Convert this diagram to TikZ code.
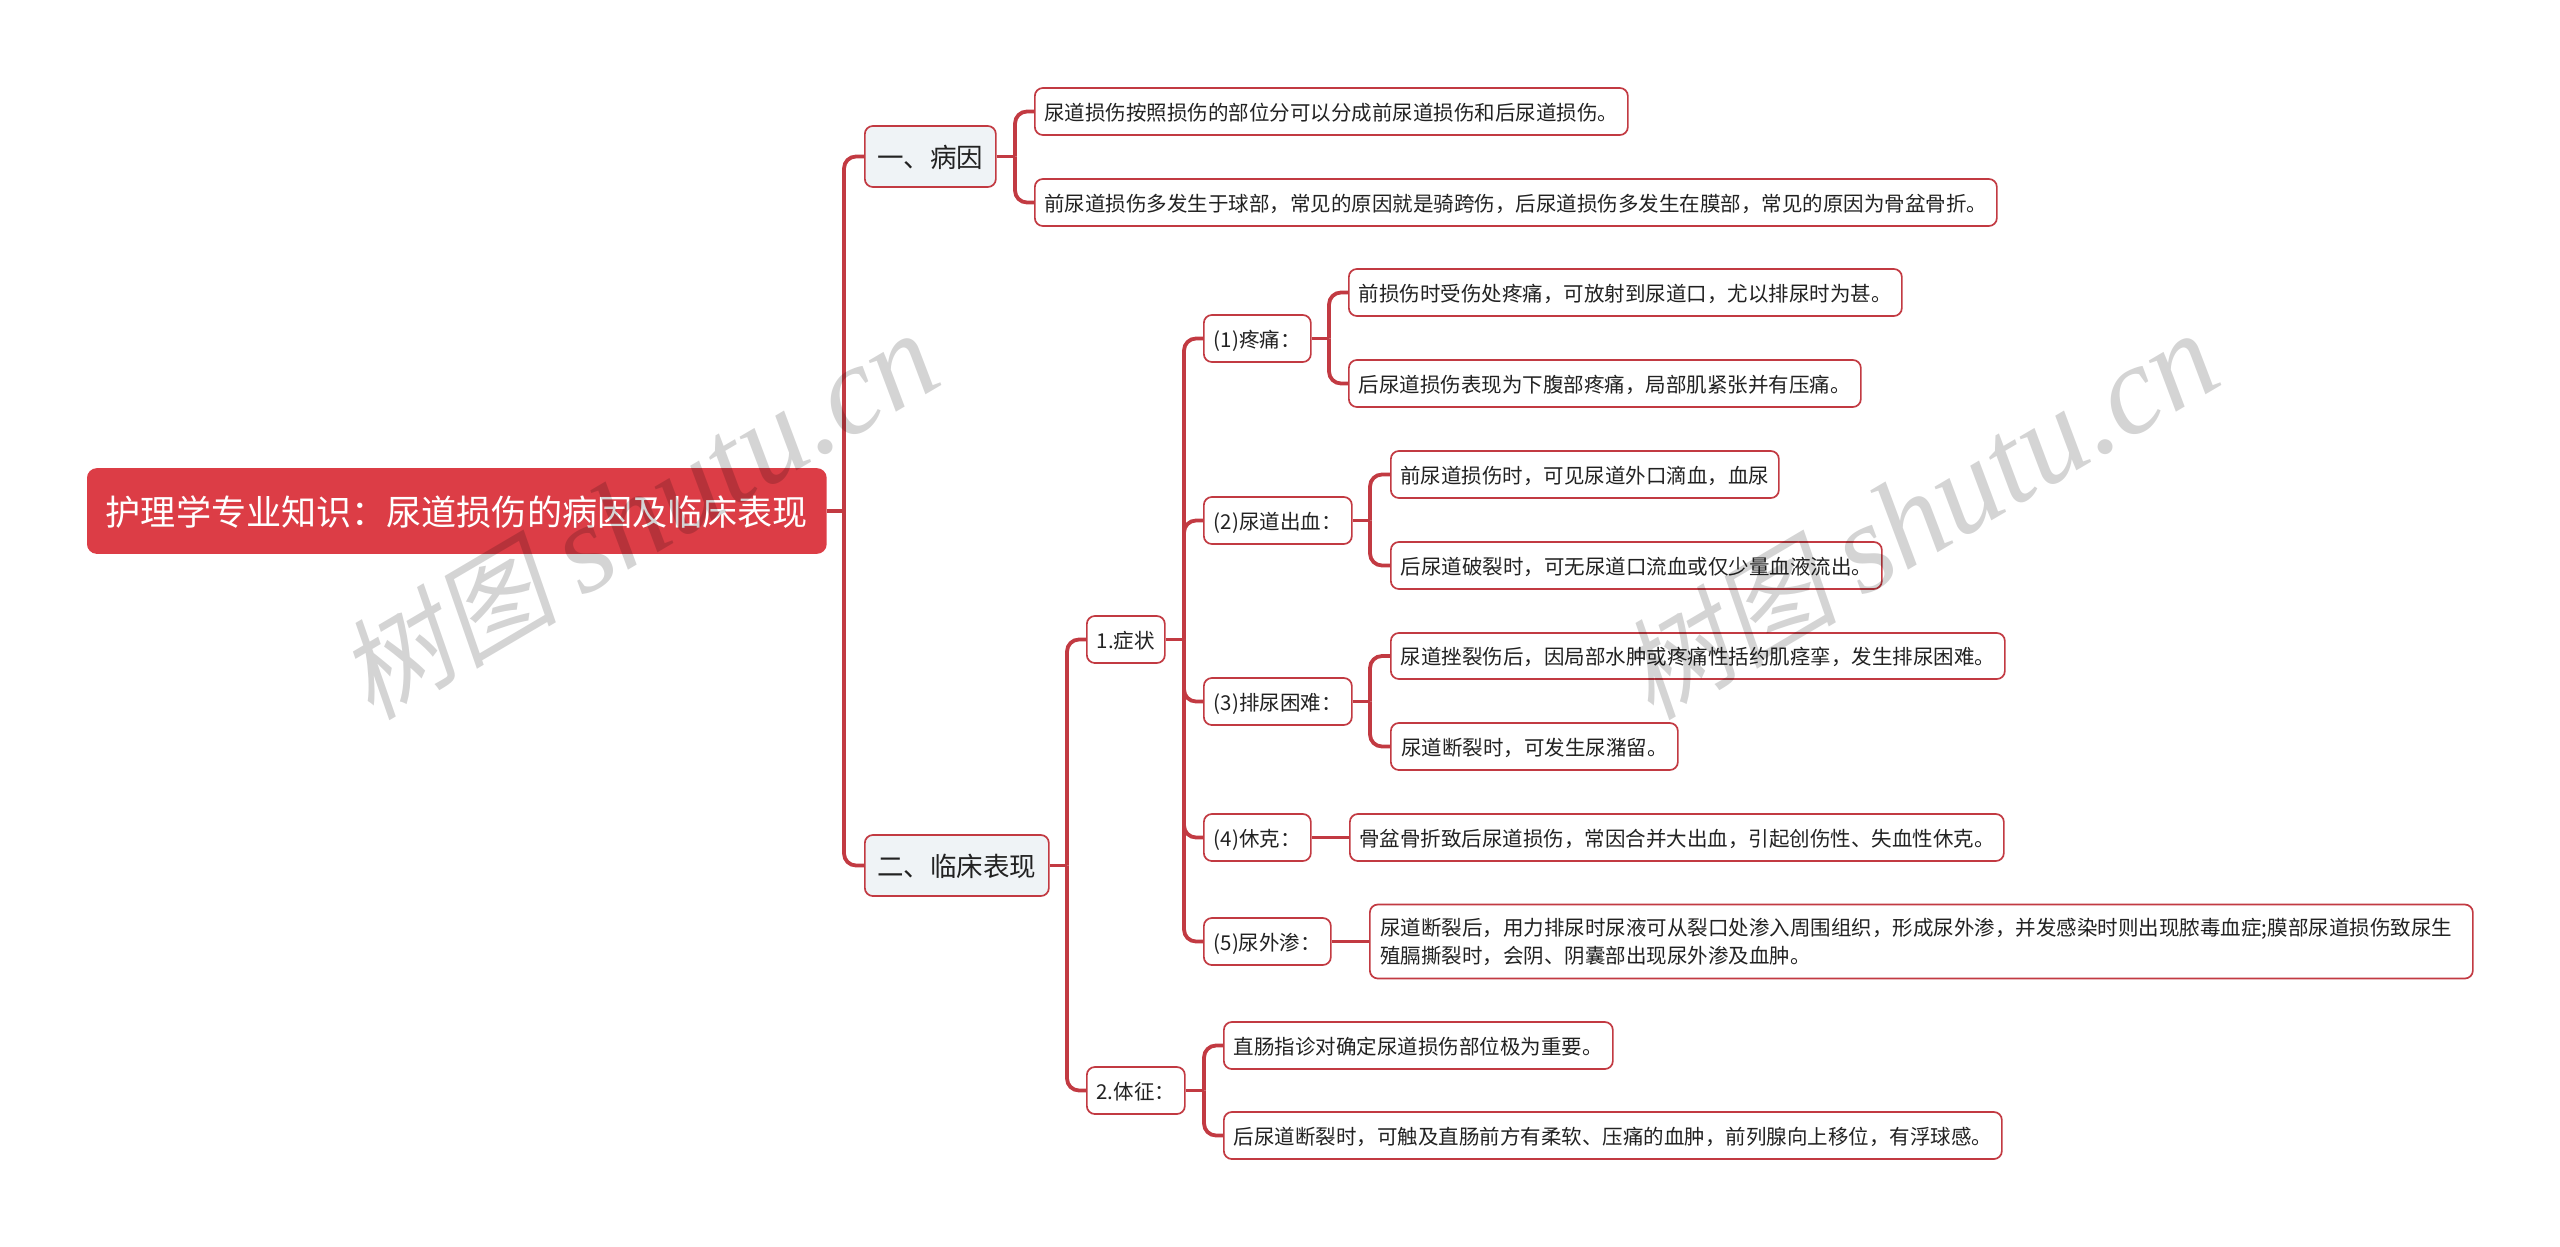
\documentclass[tikz,border=0pt]{standalone}
\usepackage{fontspec}
\setmainfont{Noto Sans CJK SC}
\newfontfamily\wmlatin{Liberation Serif}
\newfontfamily\wmcjk[FakeSlant=0.2]{Noto Sans CJK SC}
\definecolor{rootred}{HTML}{DC3D46}
\definecolor{linkred}{HTML}{C23A42}
\definecolor{branchbg}{HTML}{EFF3F6}
\definecolor{inkdark}{HTML}{222222}
\tikzset{
  x=1pt,y=-1pt,
  box/.style={draw=linkred,line width=1.7pt,rounded corners=8pt,anchor=west,fill=white,text=inkdark,inner sep=0pt,align=left},
  rootbox/.style={box,draw=rootred,fill=rootred,text=white,font=\fontsize{35.1}{42}\selectfont,rounded corners=9pt},
  branchbox/.style={box,fill=branchbg,font=\fontsize{26.5}{32}\selectfont},
  midbox/.style={box,font=\fontsize{20.5}{26}\selectfont},
  leafbox/.style={box,font=\fontsize{20.5}{28}\selectfont},
  conn/.style={draw=linkred,line width=3.8pt,rounded corners=12pt},
  stem/.style={draw=linkred,line width=3.5pt},
  wmark/.style={text=black,opacity=0.17,rotate=30.5,inner sep=0pt}
}
\newcommand{\nodebox}[7]{\node[#1,minimum width=#5-#4,minimum height=#7-#6] (#2) at (#4,{(#6+#7)/2}) {\raisebox{-1pt}[0.88em][0.12em]{#3}};}
\newcommand{\fan}[3]{\draw[conn] (#2 |- #1.east) -- (#2 |- #3.west) -- (#3.west);}
\newcommand{\stemto}[2]{\draw[stem] (#1.east) -- (#2 |- #1.east);}
\begin{document}
\begin{tikzpicture}
\useasboundingbox[fill=white] (0,0) rectangle (2560,1247);
\coordinate (t0) at (844,0);
\coordinate (t1) at (1015,0);
\coordinate (t2) at (1067,0);
\coordinate (t3) at (1184,0);
\coordinate (t4a) at (1329,0);
\coordinate (t4b) at (1370,0);
\coordinate (t5) at (1204,0);
\nodebox{rootbox}{root}{护理学专业知识：尿道损伤的病因及临床表现}{87}{825}{469}{553}
\nodebox{branchbox}{b1}{一、病因}{864}{995}{126}{187}
\nodebox{branchbox}{b2}{二、临床表现}{864}{1048}{835}{896}
\nodebox{leafbox}{c1}{尿道损伤按照损伤的部位分可以分成前尿道损伤和后尿道损伤。}{1034}{1627}{88}{135}
\nodebox{leafbox}{c2}{前尿道损伤多发生于球部，常见的原因就是骑跨伤，后尿道损伤多发生在膜部，常见的原因为骨盆骨折。}{1034}{1996}{179}{226}
\nodebox{midbox}{s1}{1.症状}{1086}{1164}{616}{663}
\nodebox{midbox}{s2}{2.体征：}{1086}{1184}{1067}{1114}
\nodebox{midbox}{p1}{(1)疼痛：}{1203}{1310}{315}{362}
\nodebox{midbox}{p2}{(2)尿道出血：}{1203}{1351}{497}{544}
\nodebox{midbox}{p3}{(3)排尿困难：}{1203}{1351}{678}{725}
\nodebox{midbox}{p4}{(4)休克：}{1203}{1310}{814}{861}
\nodebox{midbox}{p5}{(5)尿外渗：}{1203}{1330}{918}{965}
\nodebox{leafbox}{l1}{前损伤时受伤处疼痛，可放射到尿道口，尤以排尿时为甚。}{1348}{1901}{269}{316}
\nodebox{leafbox}{l2}{后尿道损伤表现为下腹部疼痛，局部肌紧张并有压痛。}{1348}{1860}{360}{407}
\nodebox{leafbox}{l3}{前尿道损伤时，可见尿道外口滴血，血尿}{1390}{1778}{451}{498}
\nodebox{leafbox}{l4}{后尿道破裂时，可无尿道口流血或仅少量血液流出。}{1390}{1881}{542}{589}
\nodebox{leafbox}{l5}{尿道挫裂伤后，因局部水肿或疼痛性括约肌痉挛，发生排尿困难。}{1390}{2004}{633}{679}
\nodebox{leafbox}{l6}{尿道断裂时，可发生尿潴留。}{1390}{1677}{723}{770}
\nodebox{leafbox}{l7}{骨盆骨折致后尿道损伤，常因合并大出血，引起创伤性、失血性休克。}{1349}{2003}{814}{861}
\node[leafbox,text width=1082pt,minimum width=1103pt,minimum height=74pt] (l8) at (1369,941.5) {尿道断裂后，用力排尿时尿液可从裂口处渗入周围组织，形成尿外渗，并发感染时则出现脓毒血症;膜部尿道损伤致尿生\\殖膈撕裂时，会阴、阴囊部出现尿外渗及血肿。};
\nodebox{leafbox}{l9}{直肠指诊对确定尿道损伤部位极为重要。}{1223}{1612}{1022}{1069}
\nodebox{leafbox}{l10}{后尿道断裂时，可触及直肠前方有柔软、压痛的血肿，前列腺向上移位，有浮球感。}{1223}{2001}{1112}{1159}
\stemto{root}{t0}
\fan{root}{t0}{b1}
\fan{root}{t0}{b2}
\stemto{b1}{t1}
\fan{b1}{t1}{c1}
\fan{b1}{t1}{c2}
\stemto{b2}{t2}
\fan{b2}{t2}{s1}
\fan{b2}{t2}{s2}
\stemto{s1}{t3}
\fan{s1}{t3}{p1}
\fan{s1}{t3}{p2}
\fan{s1}{t3}{p3}
\fan{s1}{t3}{p4}
\fan{s1}{t3}{p5}
\stemto{s2}{t5}
\fan{s2}{t5}{l9}
\fan{s2}{t5}{l10}
\stemto{p1}{t4a}
\fan{p1}{t4a}{l1}
\fan{p1}{t4a}{l2}
\stemto{p2}{t4b}
\fan{p2}{t4b}{l3}
\fan{p2}{t4b}{l4}
\stemto{p3}{t4b}
\fan{p3}{t4b}{l5}
\fan{p3}{t4b}{l6}
\draw[stem] (p4.east) -- (l7.west);
\draw[stem] (p5.east) -- (l8.west);
\node[wmark] (w1) at (638,516) {\fontsize{110}{130}\selectfont\wmcjk 树图 \fontsize{126}{130}\selectfont\wmlatin\itshape shutu.cn};
\node[wmark] (w2) at (1918,516) {\fontsize{110}{130}\selectfont\wmcjk 树图 \fontsize{126}{130}\selectfont\wmlatin\itshape shutu.cn};
\end{tikzpicture}
\end{document}
